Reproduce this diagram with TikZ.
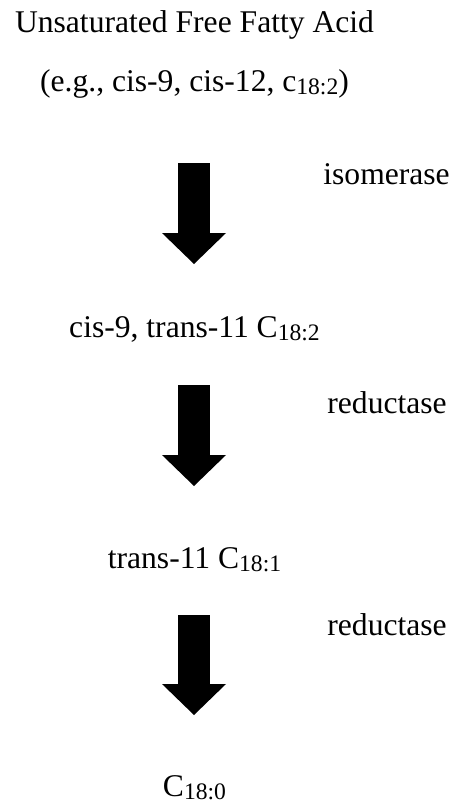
\documentclass[tikz,border=0pt]{standalone}
\usepackage{fontspec}
\setmainfont{Liberation Serif}
\usetikzlibrary{arrows.meta,positioning}
\newcommand{\chainsub}[1]{{\fontsize{11.8}{12}\selectfont\raisebox{-1.5pt}{#1}}}
\tikzset{
        compound/.style = {anchor=base, inner sep=0pt,
            font=\fontsize{15.8}{19}\selectfont},
        enzyme/.style = {anchor=base west, inner sep=0pt,
            font=\fontsize{15.8}{19}\selectfont},
        fatarrow/.style = {draw, line width=16pt,
            -{Triangle[width=32pt,length=15.5pt,line width=0pt]}},
    }

\begin{document}
\begin{tikzpicture}[x=0.5pt,y=-0.5pt]
    \useasboundingbox (0,0) rectangle (455,805);

    \node[compound] (ufa) at (194.5,32) {Unsaturated Free Fatty Acid};
    \node[compound] (eg) at (194.5,91) {(e.g., cis-9, cis-12, c\chainsub{18:2})};
    \node[compound] (cla) at (194.5,337) {cis-9, trans-11 C\chainsub{18:2}};
    \node[compound] (tva) at (194.5,568) {trans-11 C\chainsub{18:1}};
    \node[compound] (sa) at (194.5,796) {C\chainsub{18:0}};

    \node[enzyme] (iso) at (323,184) {isomerase};
    \node[enzyme] (red1) at (327,413) {reductase};
    \node[enzyme] (red2) at (327,635) {reductase};

    % arrow ends
    \coordinate (a1s) at (194,163);
    \coordinate (a1e) at (194,264);
    \coordinate (a2s) at (194,385);
    \coordinate (a2e) at (194,486);
    \coordinate (a3s) at (194,615);
    \coordinate (a3e) at (194,715);

    \draw[fatarrow] (a1s) -- (a1e);
    \draw[fatarrow] (a2s) -- (a2e);
    \draw[fatarrow] (a3s) -- (a3e);
\end{tikzpicture}
\end{document}
